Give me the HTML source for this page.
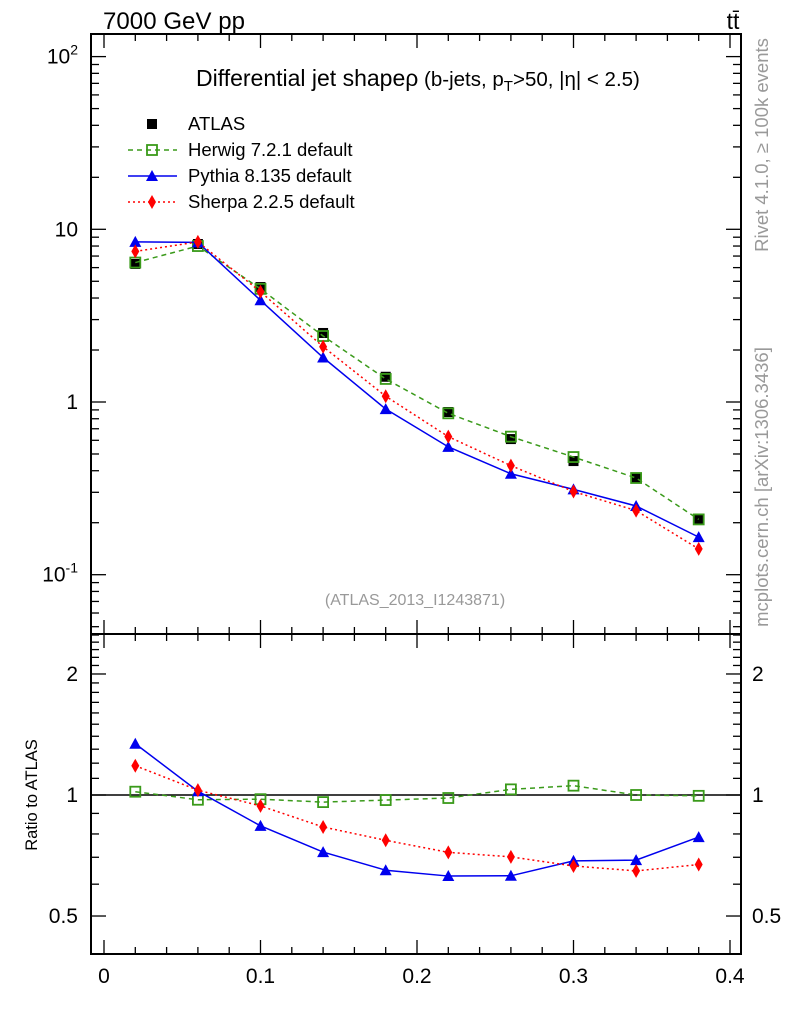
<!DOCTYPE html>
<html><head><meta charset="utf-8">
<style>
html,body{margin:0;padding:0;background:#fff;}
svg{display:block;font-family:"Liberation Sans",Arial,sans-serif;}
</style></head>
<body>
<svg id="chart" width="786" height="1024" viewBox="0 0 786 1024" xmlns="http://www.w3.org/2000/svg">
<text x="103" y="29" font-size="24" textLength="142">7000 GeV pp</text>
<text x="733" y="29" font-size="23" text-anchor="middle">tt̄</text>
<text x="196" y="86"><tspan font-size="23">Differential jet shapeρ</tspan><tspan font-size="20.5"> (b-jets, p</tspan><tspan font-size="15" dy="5">T</tspan><tspan font-size="20.5" dy="-5">&gt;50, |η| &lt; 2.5)</tspan></text>
<text x="415" y="605" text-anchor="middle" font-size="16" fill="#999">(ATLAS_2013_I1243871)</text>
<text transform="translate(768,145) rotate(-90)" text-anchor="middle" font-size="18.5" fill="#999">Rivet 4.1.0, ≥ 100k events</text>
<text transform="translate(768,487) rotate(-90)" text-anchor="middle" font-size="18.5" fill="#999">mcplots.cern.ch [arXiv:1306.3436]</text>
<text transform="translate(37,795) rotate(-90)" text-anchor="middle" font-size="16.5">Ratio to ATLAS</text>
<g id="plot"></g>
</svg>
<script>
const xVals = [0.02,0.06,0.10,0.14,0.18,0.22,0.26,0.30,0.34,0.38];
const atlas = [6.30,8.22,4.63,2.51,1.40,0.875,0.61,0.455,0.363,0.210];
const herwig = [6.42,8.0,4.52,2.41,1.36,0.86,0.63,0.48,0.363,0.209];
const pythia = [8.45,8.4,3.88,1.81,0.91,0.55,0.384,0.312,0.25,0.165];
const sherpa = [7.45,8.45,4.35,2.09,1.08,0.63,0.428,0.303,0.235,0.141];
const xTicks = [0,0.1,0.2,0.3,0.4];
const xTickLabels = ["0","0.1","0.2","0.3","0.4"];
const mainDecades = [-1,0,1,2];
const ratioTicks = [0.5,1,2];
const ratioTickLabels = ["0.5","1","2"];

const NS="http://www.w3.org/2000/svg";
const g=document.getElementById('plot');
const L=91,R=741,T=34,MID=634,B=954;
const sx=x=>104+(x/0.4)*(730-104);
const sy=v=>402-Math.log10(v)*172.7;
const sr=v=>795-Math.log10(v)*402;
function el(tag,attrs,parent){const e=document.createElementNS(NS,tag);for(const k in attrs)e.setAttribute(k,attrs[k]);(parent||g).appendChild(e);return e;}

const f1=el('rect',{x:L,y:T,width:R-L,height:MID-T,fill:'none',stroke:'#000','stroke-width':2});


const f2=el('rect',{x:L,y:MID,width:R-L,height:B-MID,fill:'none',stroke:'#000','stroke-width':2});



for(let i=0;i<=20;i++){
  const x=i*0.02, px=sx(x), major=(i%5===0), len=major?14:7;
  [[MID,-1],[T,1],[B,-1],[MID,1]].forEach(([y0,d])=>{
    const t=el('line',{x1:px,x2:px,y1:y0,y2:y0+d*len,stroke:'#000','stroke-width':1.3});
    
    
  });
}
xTicks.forEach((x,i)=>{
  const t=el('text',{x:sx(x),y:983,'font-size':21,'text-anchor':'middle'});
  t.textContent=xTickLabels[i];
  
  
});

for(let d=-2;d<=2;d++){
  for(let m=1;m<=9;m++){
    const v=m*Math.pow(10,d), py=sy(v);
    if(py<T||py>MID) continue;
    const len=m===1?15:8;
    [[L,1],[R,-1]].forEach(([x0,dir])=>{
      const t=el('line',{x1:x0,x2:x0+dir*len,y1:py,y2:py,stroke:'#000','stroke-width':1.3});
      
      
    });
  }
}
mainDecades.forEach(d=>{
  const py=sy(Math.pow(10,d));
  const t=el('text',{x:78,y:py+7,'font-size':21,'text-anchor':'end'});
  if(d===0){t.textContent='1';}
  else if(d===1){t.textContent='10';}
  else{t.textContent='10';const s=el('tspan',{dy:-9,'font-size':14},t);s.textContent=String(d);}
  
  
});

for(let v=0.4;v<=2.61;v+=0.1){
  const vv=Math.round(v*10)/10;
  const py=sr(vv); if(py<MID||py>B) continue;
  const major=ratioTicks.includes(vv), len=major?15:8;
  [[L,1],[R,-1]].forEach(([x0,dir])=>{
    const t=el('line',{x1:x0,x2:x0+dir*len,y1:py,y2:py,stroke:'#000','stroke-width':1.3});
    
    
  });
}
ratioTicks.forEach((v,i)=>{
  const py=sr(v);
  const t=el('text',{x:78,y:py+7,'font-size':21,'text-anchor':'end'});t.textContent=ratioTickLabels[i];
  
  
  const t2=el('text',{x:752,y:py+7,'font-size':21});t2.textContent=ratioTickLabels[i];
  
  
});
const one=el('line',{x1:L,x2:R,y1:sr(1),y2:sr(1),stroke:'#000','stroke-width':1.5});



function marker(kind,color,x,y,name){
  let m;
  if(kind==='sq') m=el('rect',{x:x-5,y:y-5,width:10,height:10,fill:'#000'});
  else if(kind==='osq') m=el('rect',{x:x-5,y:y-5,width:10,height:10,fill:'none',stroke:color,'stroke-width':1.8});
  else if(kind==='tri') m=el('polygon',{points:`${x},${y-6} ${x-6},${y+5} ${x+6},${y+5}`,fill:color});
  else m=el('polygon',{points:`${x},${y-7} ${x-4},${y} ${x},${y+7} ${x+4},${y}`,fill:color});
  
  
}
const series=[
  {vals:herwig,color:'#3a9a1a',dash:'5,4',kind:'osq',name:'herwig'},
  {vals:pythia,color:'#0000ee',dash:'',kind:'tri',name:'pythia'},
  {vals:sherpa,color:'#ff0000',dash:'2,3',kind:'dia',name:'sherpa'}
];
xVals.forEach((x,i)=>marker('sq','#000',sx(x),sy(atlas[i]),'atlas-point'));
series.forEach(s=>{
  const pts=xVals.map((x,i)=>sx(x)+','+sy(s.vals[i])).join(' ');
  const pl=el('polyline',{points:pts,fill:'none',stroke:s.color,'stroke-width':1.5,'stroke-dasharray':s.dash});
  
  
  xVals.forEach((x,i)=>marker(s.kind,s.color,sx(x),sy(s.vals[i]),s.name+'-point'));
  const rpts=xVals.map((x,i)=>sx(x)+','+sr(s.vals[i]/atlas[i])).join(' ');
  const rl=el('polyline',{points:rpts,fill:'none',stroke:s.color,'stroke-width':1.5,'stroke-dasharray':s.dash});
  
  
  xVals.forEach((x,i)=>marker(s.kind,s.color,sx(x),sr(s.vals[i]/atlas[i]),s.name+'-ratio-point'));
});

const legend=[
  {label:'ATLAS',kind:'sq',color:'#000',dash:null},
  {label:'Herwig 7.2.1 default',kind:'osq',color:'#3a9a1a',dash:'5,4'},
  {label:'Pythia 8.135 default',kind:'tri',color:'#0000ee',dash:''},
  {label:'Sherpa 2.2.5 default',kind:'dia',color:'#ff0000',dash:'2,3'}
];
legend.forEach((e,i)=>{
  const y=124+i*26;
  if(e.dash!==null){
    const l=el('line',{x1:128,x2:177,y1:y,y2:y,stroke:e.color,'stroke-width':1.5,'stroke-dasharray':e.dash});
    
    
  }
  marker(e.kind,e.color,152,y,'legend-marker');
  const t=el('text',{x:188,y:y+6,'font-size':18.5});t.textContent=e.label;
  
  
});
</script>
</body></html>
